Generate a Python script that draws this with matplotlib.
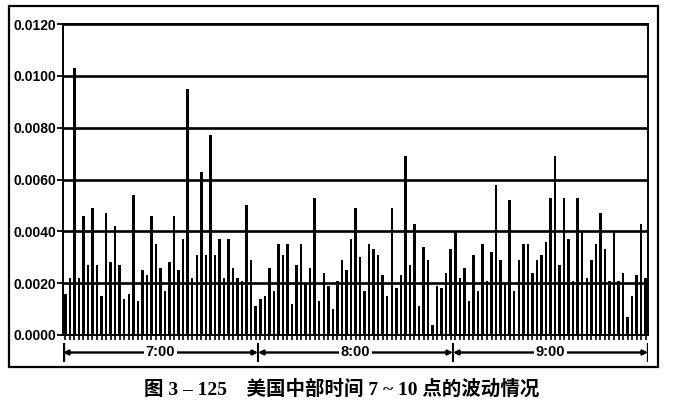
import matplotlib
matplotlib.use('Agg')
import matplotlib.pyplot as plt
from matplotlib.patches import Rectangle
import numpy as np

# volatility per bar (7:00 - 10:00 US central time)
vol_part1 = [0.0016, 0.0022, 0.0103, 0.0022, 0.0046, 0.0027, 0.0049, 0.0027, 0.0015, 0.0047, 0.0028,
             0.0042, 0.0027, 0.0014, 0.0016, 0.0054, 0.0013, 0.0025, 0.0023, 0.0046, 0.0035, 0.0026]
vol_part2 = [0.0017, 0.0028, 0.0046, 0.0025, 0.0037, 0.0095, 0.0022, 0.0031, 0.0063, 0.0031, 0.0077,
             0.0031, 0.0037, 0.0022, 0.0037, 0.0026, 0.0022, 0.0021, 0.0050, 0.0029, 0.0011, 0.0014,
             0.0015, 0.0026, 0.0017, 0.0035]
vol_part3 = [0.0031, 0.0035, 0.0012, 0.0027, 0.0035, 0.0020, 0.0026, 0.0053, 0.0013, 0.0024, 0.0019,
             0.0010, 0.0021, 0.0029, 0.0025, 0.0037, 0.0049, 0.0030, 0.0017, 0.0035, 0.0033, 0.0031,
             0.0023, 0.0015, 0.0049, 0.0018, 0.0023]
vol_part4 = [0.0069, 0.0027, 0.0043, 0.0011, 0.0034, 0.0029, 0.0004, 0.0019, 0.0018, 0.0024, 0.0033,
             0.0040, 0.0022, 0.0026, 0.0013, 0.0031, 0.0017, 0.0035, 0.0021, 0.0032, 0.0058, 0.0029,
             0.0020, 0.0052, 0.0017, 0.0029]
vol_part5 = [0.0035, 0.0035, 0.0024, 0.0029, 0.0031, 0.0036, 0.0053, 0.0069, 0.0027, 0.0053, 0.0037,
             0.0021, 0.0053, 0.0040, 0.0022, 0.0029, 0.0035, 0.0047, 0.0033, 0.0021, 0.0040, 0.0021,
             0.0024, 0.0007, 0.0015, 0.0023, 0.0043, 0.0022]
volatility = vol_part1 + vol_part2 + vol_part3 + vol_part4 + vol_part5

hour_labels = ['7:00', '8:00', '9:00']
y_ticks = [0.0, 0.002, 0.004, 0.006, 0.008, 0.010, 0.012]
caption = '图 3 – 125    美国中部时间 7 ~ 10 点的波动情况'

n = len(volatility)
xs = np.arange(n)

fig = plt.figure(figsize=(6.76, 4.04), dpi=100)
ax = fig.add_axes([63/676, 1-335/404, 585/676, 311/404])

for y in y_ticks:
    ax.axhline(y, color='black', lw=1.9, zorder=1)
ax.bar(xs, volatility, width=0.55, color='black', zorder=2)

ax.set_xlim(-0.5, n - 0.5)
ax.set_ylim(0, 0.012)
ax.set_yticks(y_ticks)
ax.set_yticklabels(['%.4f' % v for v in y_ticks], fontsize=10, fontweight='bold', family='Liberation Sans')
ax.tick_params(axis='y', length=4, width=1.3, pad=1)
ax.set_xticks(xs)
ax.set_xticklabels([])
ax.tick_params(axis='x', length=3.5, width=1.2, direction='out')
for s in ax.spines.values():
    s.set_linewidth(1.4)

# time band under the plot
tax = fig.add_axes([63/676, 1-362/404, 585/676, 19/404])
tax.set_xlim(-0.5, n - 0.5)
tax.set_ylim(0, 1)
tax.axis('off')
per_hour = n / 3.0
seps = [-0.5 + per_hour * i for i in range(4)]
for s in seps:
    tax.plot([s, s], [0.05, 0.95], color='black', lw=2.4 if s in (seps[0], seps[-1]) else 1.5)
for i, lab in enumerate(hour_labels):
    tax.annotate('', xy=(seps[i], 0.5), xytext=(seps[i+1], 0.5),
                 arrowprops=dict(arrowstyle='<|-|>', color='black', lw=1.7, shrinkA=0, shrinkB=0,
                                 mutation_scale=7))
    tax.text((seps[i] + seps[i+1]) / 2, 0.5, lab, ha='center', va='center', fontsize=10.5,
             fontweight='bold', family='Liberation Sans',
             bbox=dict(facecolor='white', edgecolor='none', pad=1.5))

# outer frame
fig.patches.append(Rectangle((9/676, 1-367/404), 649/676, 361/404, transform=fig.transFigure,
                             fill=False, edgecolor='black', lw=1.6))

fig.text(0.506, 1-389/404, caption, ha='center', va='center', fontsize=14, fontweight='bold',
         family=['Liberation Serif', 'Noto Sans CJK SC'])

plt.savefig('out.png', dpi=100)
